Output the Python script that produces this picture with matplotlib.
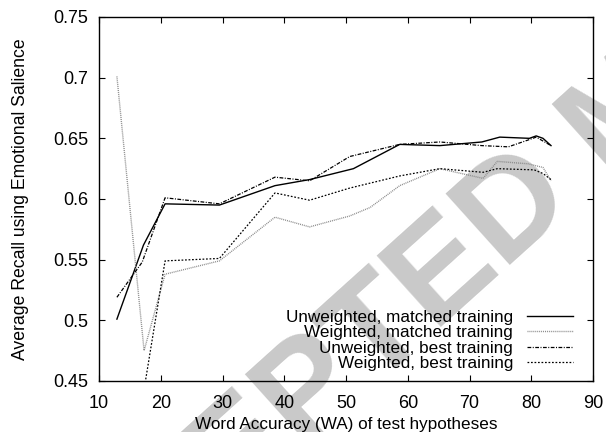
import matplotlib
matplotlib.use('Agg')
import matplotlib.pyplot as plt

plt.rcParams['font.family'] = ['Liberation Sans', 'DejaVu Sans']

# ---- data ----
wa_um = [12.9, 17.2, 20.7, 29.5, 38.5, 44.1, 51.2, 58.7, 65.2, 72.0, 74.9, 79.7, 80.8, 81.9, 83.2]
rec_um = [0.501, 0.562, 0.596, 0.595, 0.611, 0.616, 0.625, 0.645, 0.644, 0.647, 0.651, 0.650, 0.652, 0.650, 0.644]

wa_wm = [12.9, 17.3, 20.7, 29.5, 38.5, 44.1, 50.6, 53.9, 58.7, 65.2, 72.2, 74.5, 79.5, 81.9, 83.2]
rec_wm = [0.701, 0.475, 0.538, 0.549, 0.585, 0.577, 0.586, 0.593, 0.611, 0.625, 0.617, 0.631, 0.629, 0.626, 0.615]

wa_ub = [12.9, 17.0, 20.7, 29.5, 38.5, 44.1, 50.6, 58.7, 65.2, 72.0, 76.3, 79.7, 80.8, 83.2]
rec_ub = [0.519, 0.548, 0.601, 0.596, 0.618, 0.615, 0.635, 0.645, 0.647, 0.644, 0.643, 0.649, 0.651, 0.644]

wa_wb = [17.2, 20.7, 29.5, 38.5, 44.1, 50.6, 58.7, 65.2, 72.2, 74.5, 80.5, 81.9, 83.2]
rec_wb = [0.440, 0.549, 0.551, 0.605, 0.599, 0.609, 0.619, 0.625, 0.622, 0.625, 0.624, 0.621, 0.616]

labels = ['Unweighted, matched training', 'Weighted, matched training',
          'Unweighted, best training', 'Weighted, best training']

xticks = [10, 20, 30, 40, 50, 60, 70, 80, 90]
yticks = [0.45, 0.5, 0.55, 0.6, 0.65, 0.7, 0.75]
ytick_labels = ['0.45', '0.5', '0.55', '0.6', '0.65', '0.7', '0.75']

fig = plt.figure(figsize=(6.06, 4.32), dpi=100)
ax = fig.add_axes([99 / 606, 1 - 381 / 432, (593 - 99) / 606, (381 - 17) / 432])
ax.patch.set_alpha(0)

# watermark behind everything
fig.text(578 / 606, 1 - 201 / 432, 'ACCEPTED', fontsize=100, fontweight='bold',
         color='#c9c9c9', rotation=42, rotation_mode='anchor',
         ha='right', va='baseline', zorder=-5)
fig.text(607 / 606, 1 - 175 / 432, 'MANUSCRIPT', fontsize=100, fontweight='bold',
         color='#c9c9c9', rotation=42, rotation_mode='anchor',
         ha='left', va='baseline', zorder=-5)

ax.plot(wa_um, rec_um, color='black', lw=1.0, ls='-', label=labels[0])
ax.plot(wa_wm, rec_wm, color='#8a8a8a', lw=1.0, ls=(0, (0.7, 0.7)), label=labels[1])
ax.plot(wa_ub, rec_ub, color='black', lw=0.9, ls=(0, (3, 1.2, 0.8, 1.2)), label=labels[2])
ax.plot(wa_wb, rec_wb, color='black', lw=0.9, ls=(0, (1.4, 1.4)), label=labels[3])

ax.set_xlim(10, 90)
ax.set_ylim(0.45, 0.75)
ax.set_xticks(xticks)
ax.set_yticks(yticks)
ax.set_yticklabels(ytick_labels)
ax.tick_params(direction='in', length=4, width=0.8, top=True, right=True,
               labelsize=13, colors='black')
ax.tick_params(axis='x', pad=10)
ax.tick_params(axis='y', pad=8)
for s in ax.spines.values():
    s.set_linewidth(1.0)

ax.set_xlabel('Word Accuracy (WA) of test hypotheses', fontsize=12.3, labelpad=4)
ax.set_ylabel('Average Recall using Emotional Salience', fontsize=12.7, labelpad=17)

ax.legend(loc='lower right', bbox_to_anchor=(474 / 494, 10 / 364), frameon=False,
          markerfirst=False, fontsize=12.3, handlelength=2.7, handletextpad=0.8,
          labelspacing=0.02, borderaxespad=0, borderpad=0)

fig.savefig('out.png', dpi=100)
